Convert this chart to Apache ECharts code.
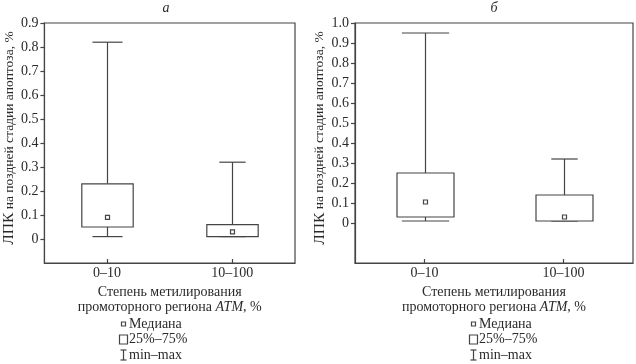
<!DOCTYPE html>
<html><head><meta charset="utf-8">
<script src="https://cdn.jsdelivr.net/npm/echarts@6/dist/echarts.min.js"></script>
<style>html,body{margin:0;padding:0;background:#fff}#c{width:636px;height:364px}</style>
</head><body><div id="c"></div>
<script>
// ---- data ----
const categories = ['0\u201310', '10\u2013100'];
// each row: [min, q1, median, q3, max]
const panelA = [[0.01, 0.05, 0.09, 0.23, 0.82], [0.01, 0.01, 0.03, 0.06, 0.32]];
const panelB = [[0.01, 0.03, 0.105, 0.25, 0.95], [0.01, 0.01, 0.03, 0.14, 0.32]];
const ticksA = [0, 0.1, 0.2, 0.3, 0.4, 0.5, 0.6, 0.7, 0.8, 0.9];
const ticksB = [0, 0.1, 0.2, 0.3, 0.4, 0.5, 0.6, 0.7, 0.8, 0.9, 1.0];
const titles = ['\u0430', '\u0431'];
const yName = '{b|ЛПК} на поздней стадии апоптоза, %';
const xName = 'Степень метилирования\nпромоторного региона {i|ATM}, %';
const legendItems = ['Медиана', '25%\u201375%', 'min\u2013max'];

// ---- style ----
const FONT = '"Liberation Serif","DejaVu Serif",serif';
const LINE = '#444';
const TXT = '#2a2a2a';
const LW = 1.2;
const capRatio = [[0.24, 0.21], [0.34, 0.19]];
const boxRatio = 0.41;

function fmtA(v){ return Math.abs(v) < 1e-9 ? '0' : (Math.round(v*10)/10).toString(); }
function fmtB(v){ return Math.abs(v) < 1e-9 ? '0' : (Math.round(v*10)/10).toFixed(1); }

function renderBox(panel){
  return function(params, api){
    const i = api.value(0);
    const mn = api.value(1), q1 = api.value(2), md = api.value(3), q3 = api.value(4), mx = api.value(5);
    const band = api.size([1, 0])[0];
    const bw = band * boxRatio;
    const cw = band * capRatio[panel][i];
    const pMin = api.coord([i, mn]), pQ1 = api.coord([i, q1]), pMd = api.coord([i, md]);
    const pQ3 = api.coord([i, q3]), pMx = api.coord([i, mx]);
    const x = Math.round(pMin[0]) + 0.5;
    const st = {stroke: LINE, lineWidth: LW, fill: null};
    return {type: 'group', children: [
      {type: 'line', shape: {x1: x, y1: pQ3[1], x2: x, y2: pMx[1]}, style: st},
      {type: 'line', shape: {x1: x, y1: pMin[1], x2: x, y2: pQ1[1]}, style: st},
      {type: 'line', shape: {x1: x - cw/2, y1: pMx[1], x2: x + cw/2, y2: pMx[1]}, style: st},
      {type: 'line', shape: {x1: x - cw/2, y1: pMin[1], x2: x + cw/2, y2: pMin[1]}, style: st},
      {type: 'rect', shape: {x: x - bw/2, y: pQ3[1], width: bw, height: pQ1[1] - pQ3[1]}, style: {stroke: LINE, lineWidth: LW, fill: '#fff'}},
      {type: 'rect', shape: {x: x - 2, y: pMd[1] - 2, width: 4, height: 4}, style: {stroke: LINE, lineWidth: LW, fill: '#fff'}}
    ]};
  };
}

function toRows(panel){ return panel.map((r, i) => [i].concat(r)); }

const grids = [
  {left: 37, top: 23, width: 258, height: 240, show: true, borderColor: LINE, borderWidth: LW, backgroundColor: 'transparent'},
  {left: 355, top: 23, width: 278, height: 240, show: true, borderColor: LINE, borderWidth: LW, backgroundColor: 'transparent'}
];
function xAxis(g){
  return {type: 'category', gridIndex: g, data: categories,
    axisLine: {show: true, onZero: false, lineStyle: {color: LINE, width: LW}}, boundaryGap: true,
    axisTick: {show: true, inside: true, alignWithLabel: true, length: 4, lineStyle: {color: LINE, width: LW}},
    axisLabel: {fontFamily: FONT, fontSize: 14, color: TXT, margin: 3},
    name: xName, nameLocation: 'middle', nameGap: 14,
    nameTextStyle: {fontFamily: FONT, fontSize: 14, color: TXT, lineHeight: 15, verticalAlign: 'top', rich: {i: {fontStyle: 'italic', fontFamily: FONT, fontSize: 14, color: TXT, lineHeight: 15}}},
    splitLine: {show: false}};
}
function yAxis(g, min, max, ticks, fmt, gap){
  return {type: 'value', gridIndex: g, min: min, max: max, interval: 0.1,
    axisLine: {show: true, onZero: false, lineStyle: {color: LINE, width: LW}}, splitLine: {show: false},
    axisTick: {show: true, inside: false, length: 4, customValues: ticks, lineStyle: {color: LINE, width: LW}},
    axisLabel: {fontFamily: FONT, fontSize: 14, color: TXT, margin: 6, customValues: ticks, formatter: fmt},
    name: yName, nameLocation: 'middle', nameGap: gap, nameRotate: 90,
    nameTextStyle: {fontFamily: FONT, fontSize: 13.5, color: TXT, padding: [0, 0, 0, 10],
      rich: {b: {fontFamily: FONT, fontSize: 15.5, color: TXT}}}};
}

function legendGraphic(x0, y0){
  const els = [];
  const dy = 15.5;
  const ts = {fontFamily: FONT, fontSize: 14, fill: TXT, verticalAlign: 'middle', align: 'left'};
  const ls = {stroke: LINE, lineWidth: LW, fill: null};
  els.push({type: 'rect', shape: {x: x0 + 2.5, y: y0 - 2, width: 4, height: 4}, style: {stroke: LINE, fill: '#fff', lineWidth: LW}});
  els.push({type: 'text', x: x0 + 10, y: y0, style: Object.assign({text: legendItems[0]}, ts)});
  els.push({type: 'rect', shape: {x: x0 + 0.5, y: y0 + dy - 4.5, width: 8, height: 9}, style: {stroke: LINE, fill: '#fff', lineWidth: LW}});
  els.push({type: 'text', x: x0 + 10, y: y0 + dy, style: Object.assign({text: legendItems[1]}, ts)});
  const yy = y0 + 2*dy;
  els.push({type: 'polyline', shape: {points: [[x0 + 1.5, yy - 5], [x0 + 7.5, yy - 5]]}, style: ls});
  els.push({type: 'polyline', shape: {points: [[x0 + 4.5, yy - 5], [x0 + 4.5, yy + 5]]}, style: ls});
  els.push({type: 'polyline', shape: {points: [[x0 + 1.5, yy + 5], [x0 + 7.5, yy + 5]]}, style: ls});
  els.push({type: 'text', x: x0 + 10, y: yy, style: Object.assign({text: legendItems[2]}, ts)});
  return els;
}

const chart = echarts.init(document.getElementById('c'), null, {renderer: 'canvas'});
chart.setOption({
  animation: false,
  backgroundColor: '#fff',
  title: [
    {text: titles[0], left: 166, top: 1, padding: 0, textAlign: 'center', textStyle: {fontFamily: FONT, fontSize: 14, fontStyle: 'italic', fontWeight: 'normal', color: TXT}},
    {text: titles[1], left: 494, top: 1, padding: 0, textAlign: 'center', textStyle: {fontFamily: FONT, fontSize: 14, fontStyle: 'italic', fontWeight: 'normal', color: TXT}}
  ],
  grid: grids,
  xAxis: [xAxis(0), xAxis(1)],
  yAxis: [yAxis(0, -0.1, 0.9, ticksA, fmtA, 21), yAxis(1, -0.2, 1.0, ticksB, fmtB, 25)],
  series: [
    {type: 'custom', xAxisIndex: 0, yAxisIndex: 0, renderItem: renderBox(0), data: toRows(panelA), encode: {x: 0, y: [1, 2, 3, 4, 5]}},
    {type: 'custom', xAxisIndex: 1, yAxisIndex: 1, renderItem: renderBox(1), data: toRows(panelB), encode: {x: 0, y: [1, 2, 3, 4, 5]}}
  ],
  graphic: legendGraphic(119, 324).concat(legendGraphic(469, 324))
});
</script></body></html>
